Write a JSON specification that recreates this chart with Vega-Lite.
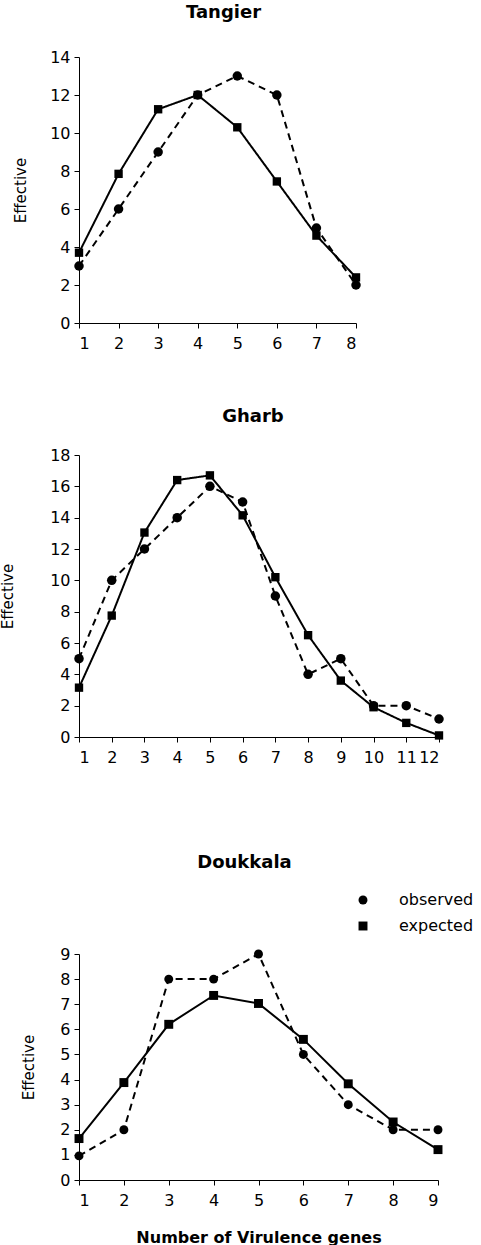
{
  "$schema": "https://vega.github.io/schema/vega-lite/v6.json",
  "padding": {"left": 0, "top": 4, "right": 0, "bottom": 0},
  "background": "white",
  "config": {
    "font": "DejaVu Sans",
    "view": {"stroke": null},
    "axis": {
      "grid": false,
      "domainColor": "black",
      "domainWidth": 1,
      "tickColor": "black",
      "tickSize": 5,
      "labelColor": "black",
      "labelFont": "DejaVu Sans",
      "labelFontSize": 16,
      "titleColor": "black",
      "titleFont": "DejaVu Sans",
      "titleFontSize": 15,
      "titleFontWeight": "normal"
    },
    "axisX": {"labelPadding": 7},
    "axisY": {"labelPadding": 4},
    "title": {"font": "DejaVu Sans", "fontSize": 18, "fontWeight": "bold", "color": "black", "anchor": "middle"}
  },
  "data": {
    "values": [
      {"region": "Tangier", "series": "expected", "genes": 1, "value": 3.7},
      {"region": "Tangier", "series": "expected", "genes": 2, "value": 7.85},
      {"region": "Tangier", "series": "expected", "genes": 3, "value": 11.25},
      {"region": "Tangier", "series": "expected", "genes": 4, "value": 12.0},
      {"region": "Tangier", "series": "expected", "genes": 5, "value": 10.3},
      {"region": "Tangier", "series": "expected", "genes": 6, "value": 7.45},
      {"region": "Tangier", "series": "expected", "genes": 7, "value": 4.6},
      {"region": "Tangier", "series": "expected", "genes": 8, "value": 2.4},
      {"region": "Tangier", "series": "observed", "genes": 1, "value": 3},
      {"region": "Tangier", "series": "observed", "genes": 2, "value": 6},
      {"region": "Tangier", "series": "observed", "genes": 3, "value": 9},
      {"region": "Tangier", "series": "observed", "genes": 4, "value": 12},
      {"region": "Tangier", "series": "observed", "genes": 5, "value": 13},
      {"region": "Tangier", "series": "observed", "genes": 6, "value": 12},
      {"region": "Tangier", "series": "observed", "genes": 7, "value": 5},
      {"region": "Tangier", "series": "observed", "genes": 8, "value": 2},
      {"region": "Gharb", "series": "expected", "genes": 1, "value": 3.15},
      {"region": "Gharb", "series": "expected", "genes": 2, "value": 7.75},
      {"region": "Gharb", "series": "expected", "genes": 3, "value": 13.05},
      {"region": "Gharb", "series": "expected", "genes": 4, "value": 16.4},
      {"region": "Gharb", "series": "expected", "genes": 5, "value": 16.7},
      {"region": "Gharb", "series": "expected", "genes": 6, "value": 14.15},
      {"region": "Gharb", "series": "expected", "genes": 7, "value": 10.2},
      {"region": "Gharb", "series": "expected", "genes": 8, "value": 6.5},
      {"region": "Gharb", "series": "expected", "genes": 9, "value": 3.6},
      {"region": "Gharb", "series": "expected", "genes": 10, "value": 1.9},
      {"region": "Gharb", "series": "expected", "genes": 11, "value": 0.9},
      {"region": "Gharb", "series": "expected", "genes": 12, "value": 0.1},
      {"region": "Gharb", "series": "observed", "genes": 1, "value": 5},
      {"region": "Gharb", "series": "observed", "genes": 2, "value": 10},
      {"region": "Gharb", "series": "observed", "genes": 3, "value": 12},
      {"region": "Gharb", "series": "observed", "genes": 4, "value": 14},
      {"region": "Gharb", "series": "observed", "genes": 5, "value": 16},
      {"region": "Gharb", "series": "observed", "genes": 6, "value": 15},
      {"region": "Gharb", "series": "observed", "genes": 7, "value": 9},
      {"region": "Gharb", "series": "observed", "genes": 8, "value": 4},
      {"region": "Gharb", "series": "observed", "genes": 9, "value": 5},
      {"region": "Gharb", "series": "observed", "genes": 10, "value": 2},
      {"region": "Gharb", "series": "observed", "genes": 11, "value": 2},
      {"region": "Gharb", "series": "observed", "genes": 12, "value": 1.15},
      {"region": "Doukkala", "series": "expected", "genes": 1, "value": 1.65},
      {"region": "Doukkala", "series": "expected", "genes": 2, "value": 3.88},
      {"region": "Doukkala", "series": "expected", "genes": 3, "value": 6.2},
      {"region": "Doukkala", "series": "expected", "genes": 4, "value": 7.35},
      {"region": "Doukkala", "series": "expected", "genes": 5, "value": 7.03},
      {"region": "Doukkala", "series": "expected", "genes": 6, "value": 5.6},
      {"region": "Doukkala", "series": "expected", "genes": 7, "value": 3.83},
      {"region": "Doukkala", "series": "expected", "genes": 8, "value": 2.31},
      {"region": "Doukkala", "series": "expected", "genes": 9, "value": 1.21},
      {"region": "Doukkala", "series": "observed", "genes": 1, "value": 0.96},
      {"region": "Doukkala", "series": "observed", "genes": 2, "value": 2},
      {"region": "Doukkala", "series": "observed", "genes": 3, "value": 8},
      {"region": "Doukkala", "series": "observed", "genes": 4, "value": 8},
      {"region": "Doukkala", "series": "observed", "genes": 5, "value": 9},
      {"region": "Doukkala", "series": "observed", "genes": 6, "value": 5},
      {"region": "Doukkala", "series": "observed", "genes": 7, "value": 3},
      {"region": "Doukkala", "series": "observed", "genes": 8, "value": 2},
      {"region": "Doukkala", "series": "observed", "genes": 9, "value": 2}
    ]
  },
  "spacing": 57,
  "resolve": {
    "scale": {"shape": "independent", "size": "independent", "strokeDash": "independent"},
    "legend": {"shape": "independent", "size": "independent", "strokeDash": "independent"}
  },
  "vconcat": [
    {
      "width": 277,
      "height": 266,
      "title": {"text": "Tangier", "offset": 27, "dx": 6},
      "transform": [{"filter": "datum.region === 'Tangier'"}],
      "encoding": {
        "x": {"field": "genes", "type": "quantitative", "scale": {"domain": [1, 8], "nice": false, "zero": false}, "axis": {"values": [1, 2, 3, 4, 5, 6, 7, 8], "title": null}},
        "y": {"field": "value", "type": "quantitative", "scale": {"domain": [0, 14], "nice": false}, "axis": {"values": [0, 2, 4, 6, 8, 10, 12, 14], "title": "Effective", "titlePadding": 21}}
      },
      "layer": [
        {
          "mark": {"type": "line", "color": "black", "strokeWidth": 2},
          "encoding": {"strokeDash": {"field": "series", "type": "nominal", "scale": {"domain": ["observed", "expected"], "range": [[7, 5], [1, 0]]}, "legend": null}}
        },
        {
          "mark": {"type": "point", "filled": true, "color": "black", "opacity": 1},
          "encoding": {
            "shape": {"field": "series", "type": "nominal", "scale": {"domain": ["observed", "expected"], "range": ["circle", "square"]}, "legend": null},
            "size": {"field": "series", "type": "nominal", "scale": {"domain": ["observed", "expected"], "range": [90, 70]}, "legend": null}
          }
        }
      ]
    },
    {
      "width": 360,
      "height": 282,
      "title": {"text": "Gharb", "offset": 21, "dx": -6},
      "transform": [{"filter": "datum.region === 'Gharb'"}],
      "encoding": {
        "x": {"field": "genes", "type": "quantitative", "scale": {"domain": [1, 12], "nice": false, "zero": false}, "axis": {"values": [1, 2, 3, 4, 5, 6, 7, 8, 9, 10, 11, 12], "title": " ", "titleFontSize": 16, "titlePadding": 16}},
        "y": {"field": "value", "type": "quantitative", "scale": {"domain": [0, 18], "nice": false}, "axis": {"values": [0, 2, 4, 6, 8, 10, 12, 14, 16, 18], "title": "Effective", "titlePadding": 34}}
      },
      "layer": [
        {
          "mark": {"type": "line", "color": "black", "strokeWidth": 2},
          "encoding": {"strokeDash": {"field": "series", "type": "nominal", "scale": {"domain": ["observed", "expected"], "range": [[7, 5], [1, 0]]}, "legend": null}}
        },
        {
          "mark": {"type": "point", "filled": true, "color": "black", "opacity": 1},
          "encoding": {
            "shape": {"field": "series", "type": "nominal", "scale": {"domain": ["observed", "expected"], "range": ["circle", "square"]}, "legend": null},
            "size": {"field": "series", "type": "nominal", "scale": {"domain": ["observed", "expected"], "range": [90, 70]}, "legend": null}
          }
        }
      ]
    },
    {
      "width": 359,
      "height": 226,
      "title": {"text": "Doukkala", "offset": 20, "dx": -14},
      "transform": [{"filter": "datum.region === 'Doukkala'"}],
      "encoding": {
        "x": {"field": "genes", "type": "quantitative", "scale": {"domain": [1, 9], "nice": false, "zero": false}, "axis": {"values": [1, 2, 3, 4, 5, 6, 7, 8, 9], "title": "Number of Virulence genes", "titleFontWeight": "bold", "titleFontSize": 16, "titlePadding": 21}},
        "y": {"field": "value", "type": "quantitative", "scale": {"domain": [0, 9], "nice": false}, "axis": {"values": [0, 1, 2, 3, 4, 5, 6, 7, 8, 9], "title": "Effective", "titlePadding": 23}}
      },
      "layer": [
        {
          "transform": [{"filter": "datum.series === 'observed'"}],
          "mark": {"type": "line", "color": "black", "strokeWidth": 2, "strokeDash": [7, 5]},
          "encoding": {}
        },
        {
          "transform": [{"filter": "datum.series === 'expected'"}],
          "mark": {"type": "line", "color": "black", "strokeWidth": 2},
          "encoding": {}
        },
        {
          "mark": {"type": "point", "filled": true, "color": "black", "opacity": 1, "size": 80},
          "encoding": {
            "shape": {
              "field": "series", "type": "nominal",
              "scale": {"domain": ["observed", "expected"], "range": ["circle", "square"]},
              "legend": {
                "orient": "none", "legendX": 276, "legendY": -62, "title": null,
                "labelFont": "DejaVu Sans", "labelFontSize": 16, "labelColor": "black",
                "symbolFillColor": "black", "symbolStrokeColor": "black", "symbolStrokeWidth": 0, "symbolOpacity": 1,
                "symbolSize": 80, "labelOffset": 28, "rowPadding": 10, "padding": 0,
                "encode": {"symbols": {"shape": {"value": {"expr": "datum.value === 'expected' ? 'M-7.8,-0.22H6.7V0.22H-7.8Z M-1,-1H1V1H-1Z' : 'circle'"}}}}
              }
            }
          }
        }
      ]
    }
  ]
}
